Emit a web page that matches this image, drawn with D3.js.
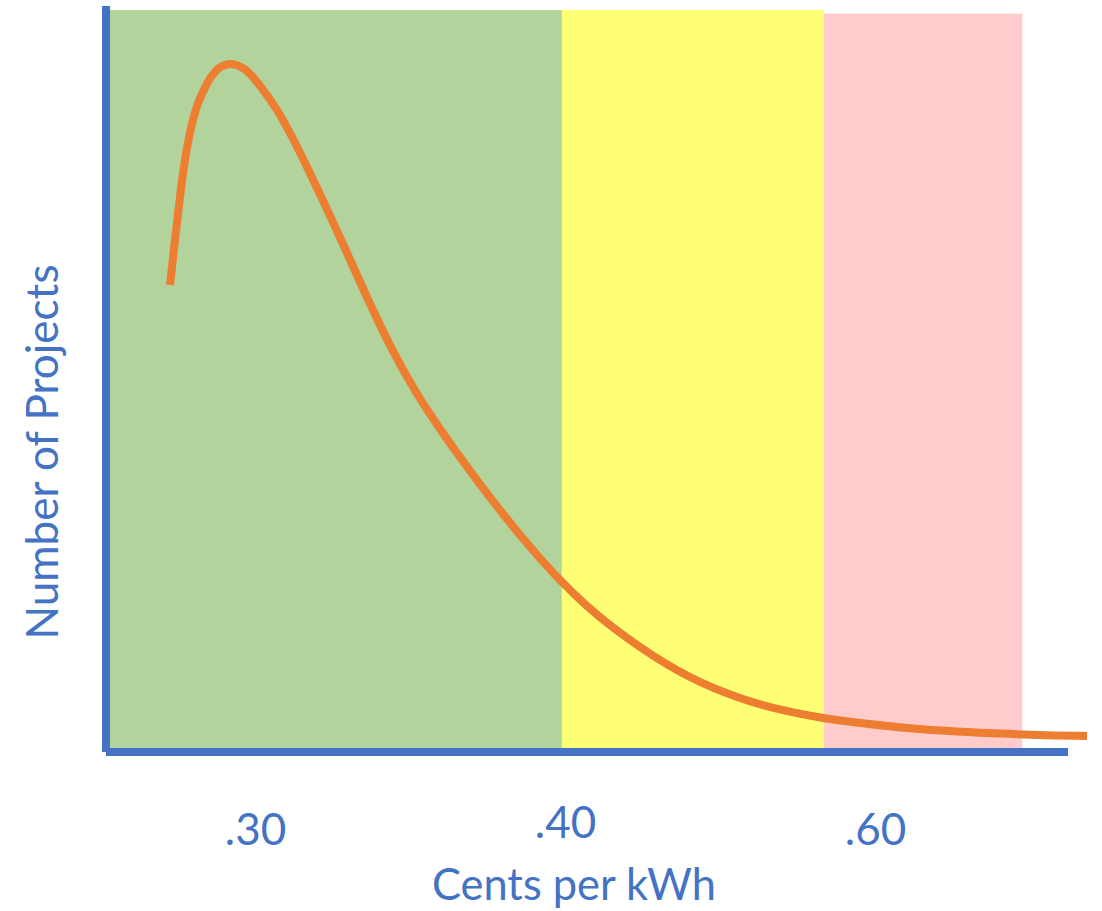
<!DOCTYPE html>
<html>
<head>
<meta charset="utf-8">
<script src="https://cdn.jsdelivr.net/npm/d3@7"></script>
<style>
  body { margin: 0; background: #fff; }
  text { font-family: Lato, "Open Sans", sans-serif; fill: #4472C4; }
</style>
</head>
<body>
<div class="chart"></div>
<script>
var svgWidth = 1102;
var svgHeight = 911;

// cost in cents per kWh along the curve, and relative number of projects
var cents = [0.2726, 0.2740, 0.2755, 0.2771, 0.2790, 0.2813, 0.2832, 0.2848, 0.2868, 0.2884,
  0.2903, 0.2919, 0.2939, 0.2955, 0.2974, 0.2990, 0.3029, 0.3071, 0.3123, 0.3177,
  0.3232, 0.3297, 0.3361, 0.3435, 0.3523, 0.3606, 0.3716, 0.3855, 0.3984, 0.4142,
  0.4484, 0.4806, 0.5129, 0.5387, 0.5665, 0.5935, 0.6206, 0.6529, 0.6852, 0.7368];
var projects = [62.74, 68.16, 73.58, 78.86, 83.33, 86.99, 88.89, 90.24, 91.46, 92.14,
  92.55, 92.68, 92.55, 92.28, 91.73, 91.06, 89.02, 86.45, 82.52, 77.91,
  73.04, 67.07, 61.11, 54.61, 47.97, 42.68, 36.31, 28.86, 22.76, 19.24,
  13.69, 9.62, 6.78, 5.22, 4.07, 3.32, 2.71, 2.24, 1.92, 1.63];

// shaded cost zones
var zoneNames = ["low", "medium", "high"];
var zoneStart = [0.2532, 0.399, 0.567];
var zoneEnd = [0.399, 0.567, 0.695];
var zoneTop = [100, 100, 99.5];
var zoneColors = ["#B2D39C", "#FFFF75", "#FFCCCB"];

// tick labels
var tickValues = [0.30, 0.40, 0.60];
var tickLabels = [".30", ".40", ".60"];

var svg = d3.select(".chart")
  .append("svg")
  .attr("width", svgWidth)
  .attr("height", svgHeight);

// x is uneven: .30 -> .40 takes the same room as .40 -> .60
var xScale = d3.scaleLinear()
  .domain(tickValues)
  .range([255, 565, 875]);

var yScale = d3.scaleLinear()
  .domain([0, 100])
  .range([748, 10]);

// zones
svg.selectAll("rect.zone")
  .data(zoneNames)
  .enter()
  .append("rect")
  .attr("class", "zone")
  .attr("x", (d, i) => xScale(zoneStart[i]))
  .attr("width", (d, i) => xScale(zoneEnd[i]) - xScale(zoneStart[i]))
  .attr("y", (d, i) => yScale(zoneTop[i]))
  .attr("height", (d, i) => yScale(0) - yScale(zoneTop[i]))
  .attr("fill", (d, i) => zoneColors[i]);

// curve
var line = d3.line()
  .x((d, i) => xScale(cents[i]))
  .y((d, i) => yScale(projects[i]))
  .curve(d3.curveMonotoneX);

svg.append("path")
  .datum(projects)
  .attr("d", line)
  .attr("fill", "none")
  .attr("stroke", "#ED7D31")
  .attr("stroke-width", 8);

// axes lines, drawn thick like the original
svg.append("line")
  .attr("x1", 106).attr("x2", 106)
  .attr("y1", 6).attr("y2", 752)
  .attr("stroke", "#4472C4")
  .attr("stroke-width", 8);

svg.append("line")
  .attr("x1", 106).attr("x2", 1068)
  .attr("y1", 752).attr("y2", 752)
  .attr("stroke", "#4472C4")
  .attr("stroke-width", 8);

// tick labels
var xAxis = d3.axisBottom(xScale)
  .tickValues(tickValues)
  .tickFormat((d, i) => tickLabels[i])
  .tickSize(0)
  .tickPadding(0);

var axisG = svg.append("g")
  .attr("transform", "translate(0, 845)")
  .call(xAxis);
axisG.select(".domain").remove();
axisG.selectAll("text")
  .attr("y", 0)
  .attr("dy", (d, i) => i === 1 ? -7 : 0)
  .style("font-size", "44px")
  .style("fill", "#4472C4")
  .attr("font-family", null);

// axis titles
svg.append("text")
  .attr("x", 574)
  .attr("y", 900)
  .attr("text-anchor", "middle")
  .attr("textLength", 284)
  .attr("lengthAdjust", "spacingAndGlyphs")
  .style("font-size", "44px")
  .text("Cents per kWh");

svg.append("text")
  .attr("transform", "translate(58, 452) rotate(-90)")
  .attr("text-anchor", "middle")
  .attr("textLength", 375)
  .attr("lengthAdjust", "spacingAndGlyphs")
  .style("font-size", "44px")
  .text("Number of Projects");
</script>
</body>
</html>
